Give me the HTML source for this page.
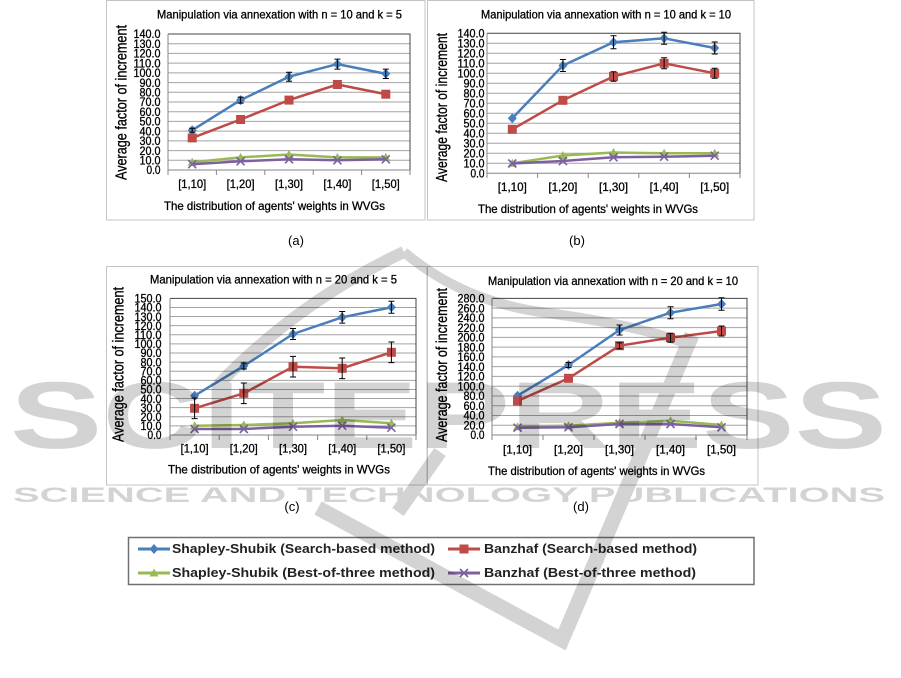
<!DOCTYPE html>
<html>
<head>
<meta charset="utf-8">
<style>
html,body{margin:0;padding:0;background:#fff;}
svg{display:block;}
.ct{font-family:"Liberation Sans",Arial,sans-serif;fill:#000;stroke:#000;stroke-width:0.3;}
.tk{font-size:12px;text-anchor:end;}
.xl{font-size:12px;text-anchor:middle;}
.ti{font-size:12px;text-anchor:middle;}
.yt{font-size:15.5px;text-anchor:middle;}
.pl{font-family:"Liberation Sans",Arial,sans-serif;font-size:13px;text-anchor:middle;fill:#000;}
.lg{font-family:"Liberation Sans",Arial,sans-serif;font-size:12.5px;font-weight:bold;fill:#222;}
.grid{stroke:#a3a3a3;stroke-width:1;fill:none;}
.ax{stroke:#868686;stroke-width:1;fill:none;}
.eb{stroke:#000;stroke-width:1;fill:none;}
.sb{stroke:#4A7EBB;stroke-width:2.5;fill:none;stroke-linejoin:round;}
.sr{stroke:#BE4B48;stroke-width:2.5;fill:none;stroke-linejoin:round;}
.sg{stroke:#98B954;stroke-width:2.5;fill:none;stroke-linejoin:round;}
.sp{stroke:#7D60A0;stroke-width:2.5;fill:none;stroke-linejoin:round;}
</style>
</head>
<body>
<svg width="901" height="678" viewBox="0 0 901 678" xmlns="http://www.w3.org/2000/svg">
<defs>
<marker id="mb" viewBox="-6 -6 12 12" markerWidth="12" markerHeight="12" refX="0" refY="0" markerUnits="userSpaceOnUse" overflow="visible"><path d="M0,-5 L4.5,0 L0,5 L-4.5,0Z" fill="#4A7EBB"/></marker>
<marker id="mr" viewBox="-6 -6 12 12" markerWidth="12" markerHeight="12" refX="0" refY="0" markerUnits="userSpaceOnUse" overflow="visible"><path d="M-4.5,-4.5 h9 v9 h-9Z" fill="#BE4B48"/></marker>
<marker id="mg" viewBox="-6 -6 12 12" markerWidth="12" markerHeight="12" refX="0" refY="0" markerUnits="userSpaceOnUse" overflow="visible"><path d="M0,-4.5 L4.5,3.5 L-4.5,3.5Z" fill="#98B954"/></marker>
<marker id="mp" viewBox="-6 -6 12 12" markerWidth="12" markerHeight="12" refX="0" refY="0" markerUnits="userSpaceOnUse" overflow="visible"><path d="M-4,-4 L4,4 M-4,4 L4,-4" stroke="#7D60A0" stroke-width="1.6" fill="none"/></marker>
</defs>
<rect x="0" y="0" width="901" height="678" fill="#fff"/>

<!-- ===== Chart (a) ===== -->
<rect x="106.5" y="0.5" width="318.5" height="219.5" fill="#fff" stroke="#c4c4c4"/>
<path class="grid" d="M168 160.29H410M168 150.57H410M168 140.86H410M168 131.14H410M168 121.43H410M168 111.71H410M168 102H410M168 92.29H410M168 82.57H410M168 72.86H410M168 63.14H410M168 53.43H410M168 43.71H410"/>
<path d="M168 34H410V170" stroke="#444" stroke-width="1" fill="none"/>
<path class="ax" d="M168 34V170H410M168 170V175M216.4 170V175M264.8 170V175M313.2 170V175M361.6 170V175M410 170V175"/>
<g class="ct tk">
<text x="160.5" y="174.2" textLength="14" lengthAdjust="spacingAndGlyphs">0.0</text>
<text x="160.5" y="164.5" textLength="21" lengthAdjust="spacingAndGlyphs">10.0</text>
<text x="160.5" y="154.8" textLength="21" lengthAdjust="spacingAndGlyphs">20.0</text>
<text x="160.5" y="145.1" textLength="21" lengthAdjust="spacingAndGlyphs">30.0</text>
<text x="160.5" y="135.3" textLength="21" lengthAdjust="spacingAndGlyphs">40.0</text>
<text x="160.5" y="125.6" textLength="21" lengthAdjust="spacingAndGlyphs">50.0</text>
<text x="160.5" y="115.9" textLength="21" lengthAdjust="spacingAndGlyphs">60.0</text>
<text x="160.5" y="106.2" textLength="21" lengthAdjust="spacingAndGlyphs">70.0</text>
<text x="160.5" y="96.5" textLength="21" lengthAdjust="spacingAndGlyphs">80.0</text>
<text x="160.5" y="86.8" textLength="21" lengthAdjust="spacingAndGlyphs">90.0</text>
<text x="160.5" y="77.1" textLength="27" lengthAdjust="spacingAndGlyphs">100.0</text>
<text x="160.5" y="67.3" textLength="27" lengthAdjust="spacingAndGlyphs">110.0</text>
<text x="160.5" y="57.6" textLength="27" lengthAdjust="spacingAndGlyphs">120.0</text>
<text x="160.5" y="47.9" textLength="27" lengthAdjust="spacingAndGlyphs">130.0</text>
<text x="160.5" y="38.2" textLength="27" lengthAdjust="spacingAndGlyphs">140.0</text>
</g>
<g class="ct xl">
<text x="192.2" y="188" textLength="28" lengthAdjust="spacingAndGlyphs">[1,10]</text>
<text x="240.6" y="188" textLength="28" lengthAdjust="spacingAndGlyphs">[1,20]</text>
<text x="289" y="188" textLength="28" lengthAdjust="spacingAndGlyphs">[1,30]</text>
<text x="337.4" y="188" textLength="28" lengthAdjust="spacingAndGlyphs">[1,40]</text>
<text x="385.8" y="188" textLength="28" lengthAdjust="spacingAndGlyphs">[1,50]</text>
</g>
<text class="ct ti" x="279.5" y="18.5" textLength="245" lengthAdjust="spacingAndGlyphs">Manipulation via annexation with n = 10 and k = 5</text>
<text class="ct ti" x="274.5" y="210" textLength="221" lengthAdjust="spacingAndGlyphs">The distribution of  agents' weights in WVGs</text>
<text class="ct yt" transform="translate(126.5,102.5) rotate(-90)" x="0" y="0" textLength="155" lengthAdjust="spacingAndGlyphs">Average factor of increment</text>
<polyline class="sb" points="192.2,130.2 240.6,100.1 289,76.7 337.4,64.1 385.8,73.8" marker-start="url(#mb)" marker-mid="url(#mb)" marker-end="url(#mb)"/>
<polyline class="sr" points="192.2,137.9 240.6,119.5 289,100.1 337.4,84.5 385.8,94.2" marker-start="url(#mr)" marker-mid="url(#mr)" marker-end="url(#mr)"/>
<polyline class="sg" points="192.2,162.2 240.6,157.4 289,154.5 337.4,157.4 385.8,157.4" marker-start="url(#mg)" marker-mid="url(#mg)" marker-end="url(#mg)"/>
<polyline class="sp" points="192.2,164.2 240.6,161.3 289,159.3 337.4,160.3 385.8,159.3" marker-start="url(#mp)" marker-mid="url(#mp)" marker-end="url(#mp)"/>
<path class="eb" d="M189.2 128.2h6M192.2 128.2V132.2M189.2 132.2h6M237.6 97.1h6M240.6 97.1V103.1M237.6 103.1h6M286 72.2h6M289 72.2V81.2M286 81.2h6M334.4 59.1h6M337.4 59.1V69.1M334.4 69.1h6M382.8 69.1h6M385.8 69.1V78.5M382.8 78.5h6"/>
<text class="pl" x="296" y="245">(a)</text>

<!-- ===== Chart (b) ===== -->
<rect x="427.5" y="0.5" width="326.5" height="219.5" fill="#fff" stroke="#c4c4c4"/>
<path class="grid" d="M487 163.3H740M487 153.3H740M487 143.3H740M487 133.3H740M487 123.3H740M487 113.3H740M487 103.3H740M487 93.3H740M487 83.3H740M487 73.3H740M487 63.3H740M487 53.3H740M487 43.3H740"/>
<path d="M487 33.3H740V173.3" stroke="#444" stroke-width="1" fill="none"/>
<path class="ax" d="M487 33.3V173.3H740M487 173.3V178M537.6 173.3V178M588.2 173.3V178M638.8 173.3V178M689.4 173.3V178M740 173.3V178"/>
<g class="ct tk">
<text x="484.5" y="177.5" textLength="14" lengthAdjust="spacingAndGlyphs">0.0</text>
<text x="484.5" y="167.5" textLength="21" lengthAdjust="spacingAndGlyphs">10.0</text>
<text x="484.5" y="157.5" textLength="21" lengthAdjust="spacingAndGlyphs">20.0</text>
<text x="484.5" y="147.5" textLength="21" lengthAdjust="spacingAndGlyphs">30.0</text>
<text x="484.5" y="137.5" textLength="21" lengthAdjust="spacingAndGlyphs">40.0</text>
<text x="484.5" y="127.5" textLength="21" lengthAdjust="spacingAndGlyphs">50.0</text>
<text x="484.5" y="117.5" textLength="21" lengthAdjust="spacingAndGlyphs">60.0</text>
<text x="484.5" y="107.5" textLength="21" lengthAdjust="spacingAndGlyphs">70.0</text>
<text x="484.5" y="97.5" textLength="21" lengthAdjust="spacingAndGlyphs">80.0</text>
<text x="484.5" y="87.5" textLength="21" lengthAdjust="spacingAndGlyphs">90.0</text>
<text x="484.5" y="77.5" textLength="27" lengthAdjust="spacingAndGlyphs">100.0</text>
<text x="484.5" y="67.5" textLength="27" lengthAdjust="spacingAndGlyphs">110.0</text>
<text x="484.5" y="57.5" textLength="27" lengthAdjust="spacingAndGlyphs">120.0</text>
<text x="484.5" y="47.5" textLength="27" lengthAdjust="spacingAndGlyphs">130.0</text>
<text x="484.5" y="37.5" textLength="27" lengthAdjust="spacingAndGlyphs">140.0</text>
</g>
<g class="ct xl">
<text x="512.3" y="191" textLength="29" lengthAdjust="spacingAndGlyphs">[1,10]</text>
<text x="562.9" y="191" textLength="29" lengthAdjust="spacingAndGlyphs">[1,20]</text>
<text x="613.5" y="191" textLength="29" lengthAdjust="spacingAndGlyphs">[1,30]</text>
<text x="664.1" y="191" textLength="29" lengthAdjust="spacingAndGlyphs">[1,40]</text>
<text x="714.7" y="191" textLength="29" lengthAdjust="spacingAndGlyphs">[1,50]</text>
</g>
<text class="ct ti" x="606" y="18.5" textLength="250" lengthAdjust="spacingAndGlyphs">Manipulation via annexation with n = 10 and k = 10</text>
<text class="ct ti" x="588" y="213" textLength="220" lengthAdjust="spacingAndGlyphs">The distribution of agents' weights in WVGs</text>
<text class="ct yt" transform="translate(447,107.5) rotate(-90)" x="0" y="0" textLength="149" lengthAdjust="spacingAndGlyphs">Average factor of increment</text>
<polyline class="sb" points="512.3,118.3 562.9,65.5 613.5,42.3 664.1,38.3 714.7,48" marker-start="url(#mb)" marker-mid="url(#mb)" marker-end="url(#mb)"/>
<polyline class="sr" points="512.3,129.3 562.9,100.3 613.5,76.5 664.1,63.3 714.7,73.3" marker-start="url(#mr)" marker-mid="url(#mr)" marker-end="url(#mr)"/>
<polyline class="sg" points="512.3,163.3 562.9,155.5 613.5,152.5 664.1,153.3 714.7,153.3" marker-start="url(#mg)" marker-mid="url(#mg)" marker-end="url(#mg)"/>
<polyline class="sp" points="512.3,163.5 562.9,161 613.5,157.3 664.1,156.7 714.7,155.7" marker-start="url(#mp)" marker-mid="url(#mp)" marker-end="url(#mp)"/>
<path class="eb" d="M559.9 59.5h6M562.9 59.5V71.5M559.9 71.5h6M610.5 35.8h6M613.5 35.8V48.8M610.5 48.8h6M661.1 32.3h6M664.1 32.3V44.3M661.1 44.3h6M711.7 42h6M714.7 42V54M711.7 54h6M610.5 71.8h6M613.5 71.8V81.2M610.5 81.2h6M661.1 57.8h6M664.1 57.8V68.8M661.1 68.8h6M711.7 68.3h6M714.7 68.3V78.3M711.7 78.3h6"/>
<text class="pl" x="577" y="245">(b)</text>

<!-- ===== Chart (c) ===== -->
<rect x="106.5" y="266.5" width="320.5" height="218.5" fill="#fff" stroke="#c4c4c4"/>
<path class="grid" d="M170 425.89H416M170 416.78H416M170 407.67H416M170 398.56H416M170 389.44H416M170 380.33H416M170 371.22H416M170 362.11H416M170 353H416M170 343.89H416M170 334.78H416M170 325.67H416M170 316.56H416M170 307.44H416"/>
<path d="M170 298.33H416V435" stroke="#444" stroke-width="1" fill="none"/>
<path class="ax" d="M170 298.33V435H416M170 435V440M219.2 435V440M268.4 435V440M317.6 435V440M366.8 435V440M416 435V440"/>
<g class="ct tk">
<text x="161.5" y="439.2" textLength="14" lengthAdjust="spacingAndGlyphs">0.0</text>
<text x="161.5" y="430.1" textLength="21" lengthAdjust="spacingAndGlyphs">10.0</text>
<text x="161.5" y="421" textLength="21" lengthAdjust="spacingAndGlyphs">20.0</text>
<text x="161.5" y="411.9" textLength="21" lengthAdjust="spacingAndGlyphs">30.0</text>
<text x="161.5" y="402.8" textLength="21" lengthAdjust="spacingAndGlyphs">40.0</text>
<text x="161.5" y="393.6" textLength="21" lengthAdjust="spacingAndGlyphs">50.0</text>
<text x="161.5" y="384.5" textLength="21" lengthAdjust="spacingAndGlyphs">60.0</text>
<text x="161.5" y="375.4" textLength="21" lengthAdjust="spacingAndGlyphs">70.0</text>
<text x="161.5" y="366.3" textLength="21" lengthAdjust="spacingAndGlyphs">80.0</text>
<text x="161.5" y="357.2" textLength="21" lengthAdjust="spacingAndGlyphs">90.0</text>
<text x="161.5" y="348.1" textLength="27" lengthAdjust="spacingAndGlyphs">100.0</text>
<text x="161.5" y="339" textLength="27" lengthAdjust="spacingAndGlyphs">110.0</text>
<text x="161.5" y="329.9" textLength="27" lengthAdjust="spacingAndGlyphs">120.0</text>
<text x="161.5" y="320.8" textLength="27" lengthAdjust="spacingAndGlyphs">130.0</text>
<text x="161.5" y="311.6" textLength="27" lengthAdjust="spacingAndGlyphs">140.0</text>
<text x="161.5" y="302.5" textLength="27" lengthAdjust="spacingAndGlyphs">150.0</text>
</g>
<g class="ct xl">
<text x="194.6" y="452.5" textLength="28" lengthAdjust="spacingAndGlyphs">[1,10]</text>
<text x="243.8" y="452.5" textLength="28" lengthAdjust="spacingAndGlyphs">[1,20]</text>
<text x="293" y="452.5" textLength="28" lengthAdjust="spacingAndGlyphs">[1,30]</text>
<text x="342.2" y="452.5" textLength="28" lengthAdjust="spacingAndGlyphs">[1,40]</text>
<text x="391.4" y="452.5" textLength="28" lengthAdjust="spacingAndGlyphs">[1,50]</text>
</g>
<text class="ct ti" x="273.5" y="283.5" textLength="247" lengthAdjust="spacingAndGlyphs">Manipulation  via annexation with n = 20 and k = 5</text>
<text class="ct ti" x="279" y="473.5" textLength="222" lengthAdjust="spacingAndGlyphs">The distribution of  agents' weights in WVGs</text>
<text class="ct yt" transform="translate(123.5,364.5) rotate(-90)" x="0" y="0" textLength="155" lengthAdjust="spacingAndGlyphs">Average factor of increment</text>
<polyline class="sb" points="194.6,395.7 243.8,366 293,334 342.2,317.3 391.4,307.3" marker-start="url(#mb)" marker-mid="url(#mb)" marker-end="url(#mb)"/>
<polyline class="sr" points="194.6,408.3 243.8,393.3 293,366.7 342.2,368.3 391.4,352.3" marker-start="url(#mr)" marker-mid="url(#mr)" marker-end="url(#mr)"/>
<polyline class="sg" points="194.6,425.7 243.8,425 293,423.3 342.2,420 391.4,423.3" marker-start="url(#mg)" marker-mid="url(#mg)" marker-end="url(#mg)"/>
<polyline class="sp" points="194.6,429 243.8,429 293,426.7 342.2,425.7 391.4,427.7" marker-start="url(#mp)" marker-mid="url(#mp)" marker-end="url(#mp)"/>
<path class="eb" d="M240.8 363h6M243.8 363V369M240.8 369h6M290 328.5h6M293 328.5V339.5M290 339.5h6M339.2 311.5h6M342.2 311.5V323.1M339.2 323.1h6M388.4 301.3h6M391.4 301.3V313.3M388.4 313.3h6M191.6 398h6M194.6 398V418.6M191.6 418.6h6M240.8 383h6M243.8 383V403.6M240.8 403.6h6M290 356.4h6M293 356.4V377M290 377h6M339.2 358h6M342.2 358V378.6M339.2 378.6h6M388.4 342h6M391.4 342V362.6M388.4 362.6h6"/>
<text class="pl" x="292" y="511">(c)</text>

<!-- ===== Chart (d) ===== -->
<rect x="427.5" y="266.5" width="330.5" height="218.5" fill="#fff" stroke="#c4c4c4"/>
<path class="grid" d="M492 425.24H747M492 415.48H747M492 405.71H747M492 395.95H747M492 386.19H747M492 376.43H747M492 366.67H747M492 356.9H747M492 347.14H747M492 337.38H747M492 327.62H747M492 317.86H747M492 308.1H747"/>
<path d="M492 298.33H747V435" stroke="#444" stroke-width="1" fill="none"/>
<path class="ax" d="M492 298.33V435H747M492 435V440M543 435V440M594 435V440M645 435V440M696 435V440M747 435V440"/>
<g class="ct tk">
<text x="484.5" y="439.2" textLength="14" lengthAdjust="spacingAndGlyphs">0.0</text>
<text x="484.5" y="429.4" textLength="21" lengthAdjust="spacingAndGlyphs">20.0</text>
<text x="484.5" y="419.7" textLength="21" lengthAdjust="spacingAndGlyphs">40.0</text>
<text x="484.5" y="409.9" textLength="21" lengthAdjust="spacingAndGlyphs">60.0</text>
<text x="484.5" y="400.2" textLength="21" lengthAdjust="spacingAndGlyphs">80.0</text>
<text x="484.5" y="390.4" textLength="27" lengthAdjust="spacingAndGlyphs">100.0</text>
<text x="484.5" y="380.6" textLength="27" lengthAdjust="spacingAndGlyphs">120.0</text>
<text x="484.5" y="370.9" textLength="27" lengthAdjust="spacingAndGlyphs">140.0</text>
<text x="484.5" y="361.1" textLength="27" lengthAdjust="spacingAndGlyphs">160.0</text>
<text x="484.5" y="351.3" textLength="27" lengthAdjust="spacingAndGlyphs">180.0</text>
<text x="484.5" y="341.6" textLength="27" lengthAdjust="spacingAndGlyphs">200.0</text>
<text x="484.5" y="331.8" textLength="27" lengthAdjust="spacingAndGlyphs">220.0</text>
<text x="484.5" y="322.1" textLength="27" lengthAdjust="spacingAndGlyphs">240.0</text>
<text x="484.5" y="312.3" textLength="27" lengthAdjust="spacingAndGlyphs">260.0</text>
<text x="484.5" y="302.5" textLength="27" lengthAdjust="spacingAndGlyphs">280.0</text>
</g>
<g class="ct xl">
<text x="517.5" y="453.5" textLength="29" lengthAdjust="spacingAndGlyphs">[1,10]</text>
<text x="568.5" y="453.5" textLength="29" lengthAdjust="spacingAndGlyphs">[1,20]</text>
<text x="619.5" y="453.5" textLength="29" lengthAdjust="spacingAndGlyphs">[1,30]</text>
<text x="670.5" y="453.5" textLength="29" lengthAdjust="spacingAndGlyphs">[1,40]</text>
<text x="721.5" y="453.5" textLength="29" lengthAdjust="spacingAndGlyphs">[1,50]</text>
</g>
<text class="ct ti" x="613" y="285" textLength="250" lengthAdjust="spacingAndGlyphs">Manipulation via annexation with n = 20 and k = 10</text>
<text class="ct ti" x="596.5" y="475" textLength="217" lengthAdjust="spacingAndGlyphs">The distribution of agents' weights in WVGs</text>
<text class="ct yt" transform="translate(447,365) rotate(-90)" x="0" y="0" textLength="154" lengthAdjust="spacingAndGlyphs">Average factor of increment</text>
<polyline class="sb" points="517.5,395.7 568.5,365 619.5,330 670.5,312.7 721.5,304" marker-start="url(#mb)" marker-mid="url(#mb)" marker-end="url(#mb)"/>
<polyline class="sr" points="517.5,401 568.5,378.3 619.5,345.7 670.5,337.7 721.5,331" marker-start="url(#mr)" marker-mid="url(#mr)" marker-end="url(#mr)"/>
<polyline class="sg" points="517.5,426.7 568.5,425.7 619.5,422.7 670.5,420.7 721.5,425" marker-start="url(#mg)" marker-mid="url(#mg)" marker-end="url(#mg)"/>
<polyline class="sp" points="517.5,427.7 568.5,427.3 619.5,424 670.5,424 721.5,427.3" marker-start="url(#mp)" marker-mid="url(#mp)" marker-end="url(#mp)"/>
<path class="eb" d="M565.5 362.5h6M568.5 362.5V367.5M565.5 367.5h6M616.5 325h6M619.5 325V335M616.5 335h6M667.5 306.7h6M670.5 306.7V318.7M667.5 318.7h6M718.5 297.7h6M721.5 297.7V310.3M718.5 310.3h6M616.5 342.7h6M619.5 342.7V348.7M616.5 348.7h6M667.5 333.2h6M670.5 333.2V342.2M667.5 342.2h6M718.5 326h6M721.5 326V336M718.5 336h6"/>
<text class="pl" x="581" y="511">(d)</text>

<!-- ===== Legend ===== -->
<rect x="128.5" y="537.5" width="625.5" height="47" fill="#fff" stroke="#707070" stroke-width="1.5"/>
<line x1="138" y1="549" x2="170" y2="549" stroke="#4A7EBB" stroke-width="3"/>
<path d="M154,544 L158.5,549 L154,554 L149.5,549Z" fill="#4A7EBB"/>
<text class="lg" x="172" y="553" textLength="263" lengthAdjust="spacingAndGlyphs">Shapley-Shubik (Search-based method)</text>
<line x1="448" y1="549" x2="480" y2="549" stroke="#BE4B48" stroke-width="3"/>
<rect x="459.5" y="544.5" width="9" height="9" fill="#BE4B48"/>
<text class="lg" x="484" y="553" textLength="213" lengthAdjust="spacingAndGlyphs">Banzhaf (Search-based method)</text>
<line x1="138" y1="573" x2="170" y2="573" stroke="#98B954" stroke-width="3"/>
<path d="M154,568.5 L158.5,576.5 L149.5,576.5Z" fill="#98B954"/>
<text class="lg" x="172" y="577" textLength="263" lengthAdjust="spacingAndGlyphs">Shapley-Shubik (Best-of-three method)</text>
<line x1="448" y1="573" x2="480" y2="573" stroke="#7D60A0" stroke-width="3"/>
<path d="M460,569 L468,577 M460,577 L468,569" stroke="#7D60A0" stroke-width="1.6"/>
<text class="lg" x="484" y="577" textLength="212" lengthAdjust="spacingAndGlyphs">Banzhaf (Best-of-three method)</text>

<!-- ===== Watermark ===== -->
<g opacity="0.17">
<text x="10" y="448" font-family="Liberation Sans, Arial, sans-serif" font-size="95" font-weight="bold" fill="#000" textLength="877" lengthAdjust="spacingAndGlyphs">SCITEPRESS</text>
<text x="13" y="502" font-family="Liberation Sans, Arial, sans-serif" font-size="21" font-weight="bold" fill="#000" textLength="872" lengthAdjust="spacingAndGlyphs">SCIENCE AND TECHNOLOGY PUBLICATIONS</text>
<path d="M218 385 Q 300 300 404 252" stroke="#000" stroke-width="12" fill="none"/>
<path d="M404 252 Q 460 300 540 312 Q 640 325 690 345" stroke="#000" stroke-width="10" fill="none"/>
<path d="M318 508 Q 450 580 562 640 L 692 335" stroke="#000" stroke-width="15" fill="none" stroke-linejoin="miter"/>
<path d="M440 452 L 398 512" stroke="#000" stroke-width="14" fill="none"/>
</g>
</svg>
</body>
</html>
